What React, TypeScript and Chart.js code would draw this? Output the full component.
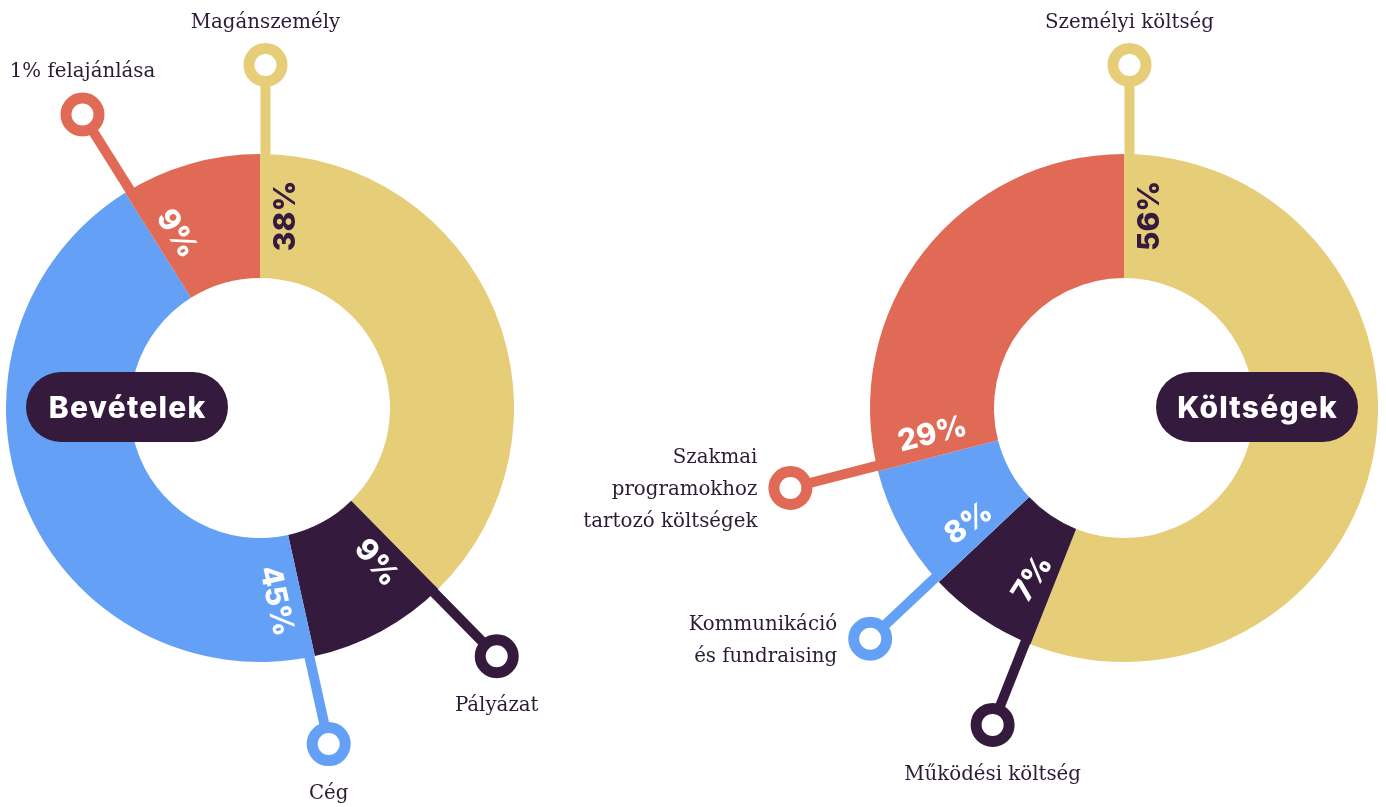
import React, { useEffect, useRef } from 'react';
import { Chart, registerables } from 'chart.js';

Chart.register(...registerables);

// ---- data ----
const incomeTitle = 'Bevételek';
const incomeLabels = ['Magánszemély', 'Pályázat', 'Cég', '1% felajánlása'];
const incomeValues = [38, 9, 45, 9];

const costTitle = 'Költségek';
const costLabels = [
  'Személyi költség',
  'Működési költség',
  'Kommunikáció\nés fundraising',
  'Szakmai\nprogramokhoz\ntartozó költségek',
];
const costValues = [56, 7, 8, 29];

// ---- styles ----
const YELLOW = '#E6CD78';
const DARK = '#341B3D';
const BLUE = '#64A0F6';
const RED = '#E06A55';
const TEXT = '#2D1B36';
const sliceColors = [YELLOW, DARK, BLUE, RED];
const pctColors = [DARK, '#FFFFFF', '#FFFFFF', '#FFFFFF'];
const incomeSides = ['top', 'bottom', 'bottom', 'top'];
const costSides = ['top', 'bottom', 'left', 'left'];
// extra tilt (degrees) of the percentage text relative to the slice's leading edge
const incomeTilt = [0, 5, 0, 0];
const costTilt = [0, 11, 8, 0];

const PIN_R = 343;
const LINE_OFFSET = 5.5;

function decorPlugin(title: string, titleSide: number, sides: string[], tilt: number[]) {
  return {
    id: 'decor',
    afterDatasetsDraw(chart: any) {
      const ctx: CanvasRenderingContext2D = chart.ctx;
      const meta = chart.getDatasetMeta(0);
      const ds = chart.data.datasets[0];
      const labels: string[] = chart.data.labels;
      let cx0 = 0;
      let cy0 = 0;
      meta.data.forEach((arc: any, i: number) => {
        const p = arc.getProps(['x', 'y', 'startAngle', 'endAngle', 'innerRadius', 'outerRadius'], true);
        const { x, y, startAngle, innerRadius, outerRadius } = p;
        cx0 = x;
        cy0 = y;
        const color = sliceColors[i];
        const ux = Math.cos(startAngle);
        const uy = Math.sin(startAngle);
        const tx = -Math.sin(startAngle);
        const ty = Math.cos(startAngle);
        // leader line
        const ringOuter = 22;
        const r0 = outerRadius - 6;
        const r1 = PIN_R - ringOuter + 3;
        ctx.save();
        ctx.strokeStyle = color;
        ctx.lineWidth = 10;
        ctx.lineCap = 'butt';
        ctx.beginPath();
        ctx.moveTo(x + r0 * ux + LINE_OFFSET * tx, y + r0 * uy + LINE_OFFSET * ty);
        ctx.lineTo(x + r1 * ux + LINE_OFFSET * tx, y + r1 * uy + LINE_OFFSET * ty);
        ctx.stroke();
        // ring
        const pcx = x + PIN_R * ux + LINE_OFFSET * tx;
        const pcy = y + PIN_R * uy + LINE_OFFSET * ty;
        ctx.beginPath();
        ctx.arc(pcx, pcy, 16.5, 0, Math.PI * 2);
        ctx.lineWidth = 11;
        ctx.stroke();
        ctx.restore();

        // percentage label: runs roughly parallel to the slice's leading edge
        const midR = (innerRadius + outerRadius) / 2;
        const d = 24;
        const lx = x + midR * ux + d * tx;
        const ly = y + midR * uy + d * ty;
        let rot = startAngle + ((tilt[i] || 0) * Math.PI) / 180;
        if (Math.cos(rot) < -0.01) rot += Math.PI;
        ctx.save();
        ctx.translate(lx, ly);
        ctx.rotate(rot);
        ctx.font = '800 30px Inter';
        ctx.fillStyle = pctColors[i];
        ctx.textAlign = 'center';
        ctx.textBaseline = 'alphabetic';
        ctx.fillText(ds.data[i] + '%', 0, 11);
        ctx.restore();

        // outside label
        const side = sides[i];
        const lines = labels[i].split('\n');
        ctx.save();
        ctx.font = '19.8px "DejaVu Serif"';
        ctx.fillStyle = TEXT;
        ctx.textBaseline = 'alphabetic';
        if (side === 'top') {
          ctx.textAlign = 'center';
          ctx.fillText(lines[0], pcx, pcy - 37);
        } else if (side === 'bottom') {
          ctx.textAlign = 'center';
          ctx.fillText(lines[0], pcx, pcy + 55);
        } else {
          ctx.textAlign = 'right';
          const lh = 32;
          const first = pcy - ((lines.length - 1) * lh) / 2 + 7;
          lines.forEach((ln, k) => ctx.fillText(ln, pcx - 33, first + k * lh));
        }
        ctx.restore();
      });

      // title pill
      const pw = 202;
      const ph = 70;
      const px = cx0 + titleSide * 133 - pw / 2;
      const py = cy0 - ph / 2 - 1;
      ctx.save();
      ctx.fillStyle = DARK;
      ctx.beginPath();
      ctx.roundRect(px, py, pw, ph, ph / 2);
      ctx.fill();
      ctx.fillStyle = '#FFFFFF';
      ctx.font = '800 30px Inter';
      (ctx as any).letterSpacing = '1.2px';
      ctx.textAlign = 'center';
      ctx.textBaseline = 'alphabetic';
      ctx.fillText(title, px + pw / 2 + 0.6, cy0 + 10);
      ctx.restore();
    },
  };
}

interface DonutProps {
  labels: string[];
  values: number[];
  sides: string[];
  tilt: number[];
  title: string;
  titleSide: number;
  left: number;
  width: number;
  padding: { left: number; right: number; top: number; bottom: number };
}

function Donut({ labels, values, sides, tilt, title, titleSide, left, width, padding }: DonutProps) {
  const ref = useRef<HTMLCanvasElement>(null);
  useEffect(() => {
    const chart = new Chart(ref.current as HTMLCanvasElement, {
      type: 'doughnut',
      data: {
        labels,
        datasets: [
          {
            data: values,
            backgroundColor: sliceColors,
            borderWidth: 0,
            hoverOffset: 0,
          },
        ],
      },
      options: {
        responsive: false,
        animation: false,
        events: [],
        devicePixelRatio: 1,
        cutout: '51.2%',
        rotation: 0,
        circumference: 360,
        layout: { padding },
        plugins: { legend: { display: false }, tooltip: { enabled: false } },
      } as any,
      plugins: [decorPlugin(title, titleSide, sides, tilt) as any],
    });
    return () => chart.destroy();
  }, []);
  return (
    <canvas
      ref={ref}
      width={width}
      height={807}
      style={{ position: 'absolute', left, top: 0, width, height: 807 }}
    />
  );
}

export default function App() {
  return (
    <div style={{ position: 'fixed', left: 0, top: 0, width: 1386, height: 807, background: '#fff', overflow: 'hidden' }}>
      <Donut
        labels={incomeLabels}
        values={incomeValues}
        sides={incomeSides}
        tilt={incomeTilt}
        title={incomeTitle}
        titleSide={-1}
        left={0}
        width={545}
        padding={{ left: 6, right: 31, top: 9, bottom: 0 }}
      />
      <Donut
        labels={costLabels}
        values={costValues}
        sides={costSides}
        tilt={costTilt}
        title={costTitle}
        titleSide={1}
        left={545}
        width={841}
        padding={{ left: 325, right: 8, top: 9, bottom: 0 }}
      />
    </div>
  );
}
